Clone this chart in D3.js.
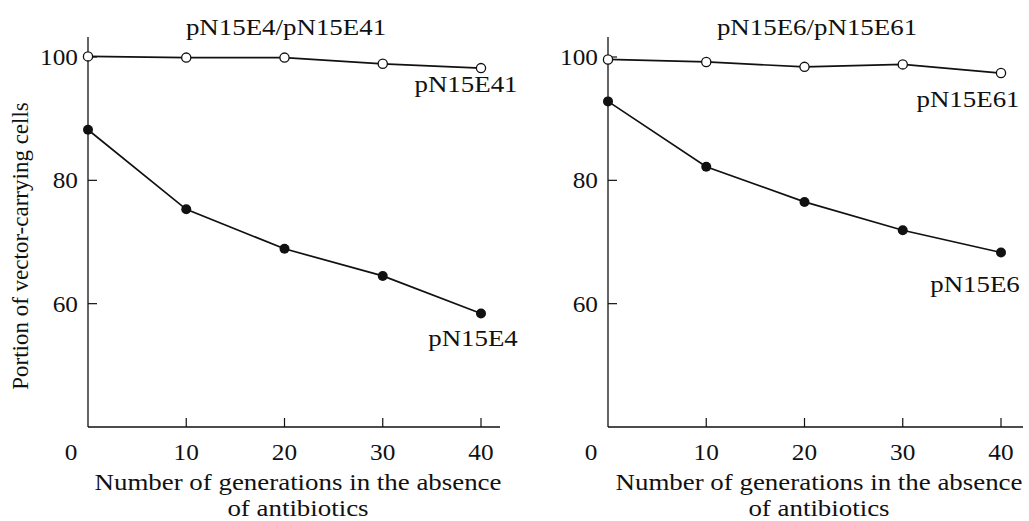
<!DOCTYPE html>
<html>
<head>
<meta charset="utf-8">
<script src="https://cdn.jsdelivr.net/npm/d3@7"></script>
<style>
  body { margin: 0; background: #fff; }
  text { font-family: "Liberation Serif", "DejaVu Serif", serif; fill: #111; }
</style>
</head>
<body>
<div id="chart"></div>
<script>
////// DATA
var generations = [0, 10, 20, 30, 40];
var xTicks = [10, 20, 30, 40];
var yTicks = [60, 80, 100];

var pN15E41 = [100.1, 99.9, 99.9, 98.9, 98.2];
var pN15E4 = [88.2, 75.3, 68.9, 64.5, 58.4];
var pN15E61 = [99.6, 99.2, 98.4, 98.8, 97.4];
var pN15E6 = [92.8, 82.2, 76.5, 71.9, 68.3];

var panelTitles = ["pN15E4/pN15E41", "pN15E6/pN15E61"];
var openLabels = ["pN15E41", "pN15E61"];
var filledLabels = ["pN15E4", "pN15E6"];

////// SETUP SVG
var W = 1029, H = 521;
var svg = d3.select("#chart").append("svg")
    .attr("width", W)
    .attr("height", H);

// one layout per panel
var panels = [
    { x0: 88, x1: 500, open: pN15E41, filled: pN15E4, titleX: 286, xTitleX: 298,
      openLab: [466, 92], filledLab: [473, 346] },
    { x0: 608, x1: 1023, open: pN15E61, filled: pN15E6, titleX: 817, xTitleX: 819,
      openLab: [968, 107], filledLab: [975, 292] }
];
var yTop = 37, yBottom = 427;
var font = 23, wide = 1.17, tickWide = 1.1;

// text stretched horizontally, the reference type is wide
function label(g, x, y, str, sx, anchor) {
    return g.append("text")
        .attr("transform", "translate(" + x + "," + y + ") scale(" + sx + ",1)")
        .attr("text-anchor", anchor || "middle")
        .attr("font-size", font)
        .text(str);
}

var line = d3.line();

panels.forEach(function(p, i) {
    // x scale: 10 generations ~ 98 px
    var x = d3.scaleLinear().domain([0, 40]).range([p.x0, p.x0 + 393]);
    var y = d3.scaleLinear().domain([40, 100]).range([yBottom, 57]);

    var g = svg.append("g");

    // Axis lines
    g.append("line")
        .attr("x1", p.x0).attr("x2", p.x0)
        .attr("y1", yTop).attr("y2", yBottom)
        .attr("stroke", "#111").attr("stroke-width", 1.3);
    g.append("line")
        .attr("x1", p.x0).attr("x2", p.x1)
        .attr("y1", yBottom).attr("y2", yBottom)
        .attr("stroke", "#111").attr("stroke-width", 1.3);

    // Y ticks point inward
    g.selectAll(".yt").data(yTicks).enter().append("line")
        .attr("x1", p.x0).attr("x2", p.x0 + 9)
        .attr("y1", d => y(d)).attr("y2", d => y(d))
        .attr("stroke", "#111").attr("stroke-width", 1.2);
    yTicks.forEach(function(d) {
        label(g, p.x0 - 10, y(d) + 8, d, tickWide, "end");
    });

    // X ticks point up into the plot
    g.selectAll(".xt").data(xTicks).enter().append("line")
        .attr("x1", d => x(d)).attr("x2", d => x(d))
        .attr("y1", yBottom).attr("y2", yBottom - 9)
        .attr("stroke", "#111").attr("stroke-width", 1.2);
    [0].concat(xTicks).forEach(function(d) {
        label(g, d === 0 ? x(0) - 17 : x(d), 460, d, tickWide);
    });

    // X axis title, two lines
    label(g, p.xTitleX, 490, "Number of generations in the absence", wide);
    label(g, p.xTitleX, 516, "of antibiotics", wide);

    // Panel title
    label(g, p.titleX, 35, panelTitles[i], wide);

    // Lines
    var openPts = generations.map((d, k) => [x(d), y(p.open[k])]);
    var filledPts = generations.map((d, k) => [x(d), y(p.filled[k])]);
    g.append("path").attr("d", line(openPts))
        .attr("fill", "none").attr("stroke", "#111").attr("stroke-width", 1.7);
    g.append("path").attr("d", line(filledPts))
        .attr("fill", "none").attr("stroke", "#111").attr("stroke-width", 1.7);

    // Markers
    g.selectAll(".fp").data(filledPts).enter().append("circle")
        .attr("cx", d => d[0]).attr("cy", d => d[1])
        .attr("r", 5).attr("fill", "#111");
    g.selectAll(".op").data(openPts).enter().append("circle")
        .attr("cx", d => d[0]).attr("cy", d => d[1])
        .attr("r", 4.6).attr("fill", "#fff")
        .attr("stroke", "#111").attr("stroke-width", 1.3);

    // Series labels
    label(g, p.openLab[0], p.openLab[1], openLabels[i], wide);
    label(g, p.filledLab[0], p.filledLab[1], filledLabels[i], wide);
});

// Y axis title (left panel only)
svg.append("text")
    .attr("transform", "translate(28,246) rotate(-90)")
    .attr("text-anchor", "middle")
    .attr("font-size", font)
    .text("Portion of vector-carrying cells");
</script>
</body>
</html>
